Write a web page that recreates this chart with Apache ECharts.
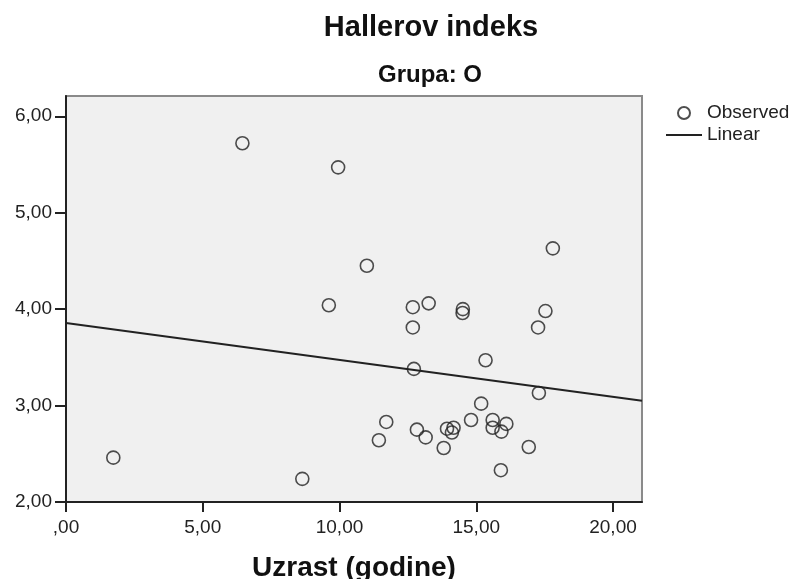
<!DOCTYPE html>
<html>
<head>
<meta charset="utf-8">
<script src="https://cdn.jsdelivr.net/npm/echarts@6.0.0/dist/echarts.min.js"></script>
<style>
  html, body { margin: 0; padding: 0; background: #fff; }
  #chart { width: 797px; height: 579px; }
</style>
</head>
<body>
<div id="chart"></div>
<script>
// observed points: age (years) and Haller index
var ageValues = [1.73, 6.45, 9.95, 8.64, 11.0, 9.61, 12.68, 13.26, 12.68, 14.51, 14.50,
                 12.72, 15.34, 17.80, 17.53, 17.26, 17.29, 15.18, 11.71, 11.44, 12.83,
                 13.15, 13.81, 13.93, 14.17, 14.11, 14.81, 15.60, 15.60, 15.92, 16.10,
                 16.92, 15.90];
var hallerValues = [2.46, 5.72, 5.47, 2.24, 4.45, 4.04, 4.02, 4.06, 3.81, 4.00, 3.96,
                    3.38, 3.47, 4.63, 3.98, 3.81, 3.13, 3.02, 2.83, 2.64, 2.75,
                    2.67, 2.56, 2.76, 2.77, 2.72, 2.85, 2.85, 2.77, 2.73, 2.81,
                    2.57, 2.33];

// linear fit line, read at both ends of the plot
var linearX = [0, 21.06];
var linearY = [3.855, 3.05];

var xTicks = [0, 5, 10, 15, 20];
var yTicks = [2, 3, 4, 5, 6];

var observed = ageValues.map(function (a, i) { return [a, hallerValues[i]]; });
var linear = linearX.map(function (a, i) { return [a, linearY[i]]; });

function fmt(v) {
    var s = v.toFixed(2).replace('.', ',');
    if (s.indexOf('0,') === 0) s = s.slice(1);
    return s;
}

var font = 'Liberation Sans';
var chart = echarts.init(document.getElementById('chart'));

var option = {
    animation: false,
    textStyle: { fontFamily: font },
    grid: {
        left: 66, right: 155, top: 96, bottom: 77,
        outerBoundsMode: 'none',
        containLabel: false,
        show: true,
        backgroundColor: '#f0f0f0',
        borderColor: '#8a8a8a',
        borderWidth: 2
    },
    graphic: [
        {
            type: 'text', x: 431, y: 28,
            style: { text: 'Hallerov indeks', font: 'bold 29px ' + font, fill: '#111',
                     textAlign: 'center', textVerticalAlign: 'middle' }
        },
        {
            type: 'text', x: 430, y: 75,
            style: { text: 'Grupa: O', font: 'bold 24px ' + font, fill: '#111',
                     textAlign: 'center', textVerticalAlign: 'middle' }
        }
    ],
    legend: {
        orient: 'vertical',
        left: 660,
        top: 98,
        itemWidth: 36,
        itemHeight: 12,
        itemGap: 2,
        textStyle: { fontFamily: font, fontSize: 19, color: '#222', lineHeight: 20 },
        data: [
            'Observed',
            { name: 'Linear', itemStyle: { opacity: 0 } }
        ]
    },
    xAxis: {
        type: 'value',
        min: 0,
        max: 21.06,
        name: 'Uzrast (godine)',
        nameLocation: 'middle',
        nameGap: 52,
        nameTextStyle: { fontFamily: font, fontSize: 28, fontWeight: 'bold', color: '#111' },
        splitLine: { show: false },
        axisLine: { show: true, lineStyle: { color: '#222', width: 2 } },
        axisTick: { show: true, length: 10, lineStyle: { color: '#222', width: 2 },
                    customValues: xTicks },
        axisLabel: { margin: 16, fontSize: 19, color: '#222', customValues: xTicks,
                     formatter: fmt }
    },
    yAxis: {
        type: 'value',
        min: 2,
        max: 6.21,
        splitLine: { show: false },
        axisLine: { show: true, lineStyle: { color: '#222', width: 2 } },
        axisTick: { show: true, length: 11, lineStyle: { color: '#222', width: 2 },
                    customValues: yTicks },
        axisLabel: { margin: 14, fontSize: 19, color: '#222', customValues: yTicks,
                     formatter: fmt }
    },
    series: [
        {
            name: 'Observed',
            type: 'scatter',
            symbol: 'circle',
            symbolSize: 13,
            data: observed,
            itemStyle: { color: 'rgba(0,0,0,0)', borderColor: '#222', borderWidth: 1.6 },
            z: 3
        },
        {
            name: 'Linear',
            type: 'line',
            symbol: 'none',
            data: linear,
            itemStyle: { color: '#222' },
            lineStyle: { color: '#222', width: 2 },
            z: 2
        }
    ]
};

chart.setOption(option);
</script>
</body>
</html>
